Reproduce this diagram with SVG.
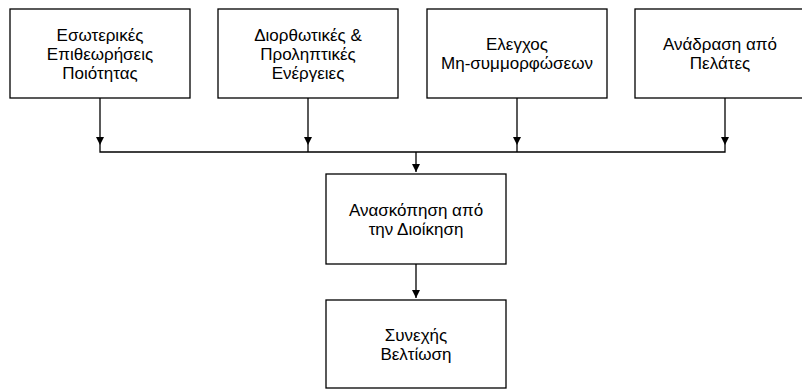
<svg xmlns="http://www.w3.org/2000/svg" width="802" height="390" viewBox="0 0 802 390">
<style>
.box{fill:#fff;stroke:#000;stroke-width:1.3}
.t{font-family:"Liberation Sans",Arial,sans-serif;font-size:17px;fill:#000;text-anchor:middle}
.c{fill:none;stroke:#000;stroke-width:1.3}
</style>
<defs>
<marker id="ah" markerWidth="10" markerHeight="10" refX="8" refY="4" orient="auto" markerUnits="userSpaceOnUse">
<path d="M0,0 L8,4 L0,8 Z" fill="#000"/>
</marker>
</defs>
<rect width="802" height="390" fill="#fff"/>
<g id="n1"><rect class="box" x="10" y="9" width="180" height="89"/>
<text class="t" x="100" y="41">Εσωτερικές</text><text class="t" x="100" y="60">Επιθεωρήσεις</text><text class="t" x="100" y="79">Ποιότητας</text></g>
<g id="n2"><rect class="box" x="218" y="9" width="180" height="89"/>
<text class="t" x="308" y="41">Διορθωτικές &amp;</text><text class="t" x="308" y="60">Προληπτικές</text><text class="t" x="308" y="79">Ενέργειες</text></g>
<g id="n3"><rect class="box" x="427" y="9" width="180" height="89"/>
<text class="t" x="517" y="50">Ελεγχος</text><text class="t" x="517" y="69">Μη-συμμορφώσεων</text></g>
<g id="n4"><rect class="box" x="635" y="9" width="180" height="89"/>
<text class="t" x="720" y="50">Ανάδραση από</text><text class="t" x="720" y="69">Πελάτες</text></g>
<g id="n5"><rect class="box" x="326" y="174" width="180" height="90"/>
<text class="t" x="416" y="216">Ανασκόπηση από</text><text class="t" x="416" y="235">την Διοίκηση</text></g>
<g id="n6"><rect class="box" x="326" y="300" width="180" height="88"/>
<text class="t" x="416" y="341">Συνεχής</text><text class="t" x="416" y="360">Βελτίωση</text></g>
<g id="connectors">
<path class="c" d="M100,98 V145" marker-end="url(#ah)"/>
<path class="c" d="M308,98 V145" marker-end="url(#ah)"/>
<path class="c" d="M517,98 V145" marker-end="url(#ah)"/>
<path class="c" d="M725,98 V145" marker-end="url(#ah)"/>
<path class="c" d="M100,145 V152 H725 V145"/>
<path class="c" d="M308,145 V152 M517,145 V152"/>
<path class="c" d="M416,152 V172" marker-end="url(#ah)"/>
<path class="c" d="M416,264 V298" marker-end="url(#ah)"/>
</g>
</svg>
